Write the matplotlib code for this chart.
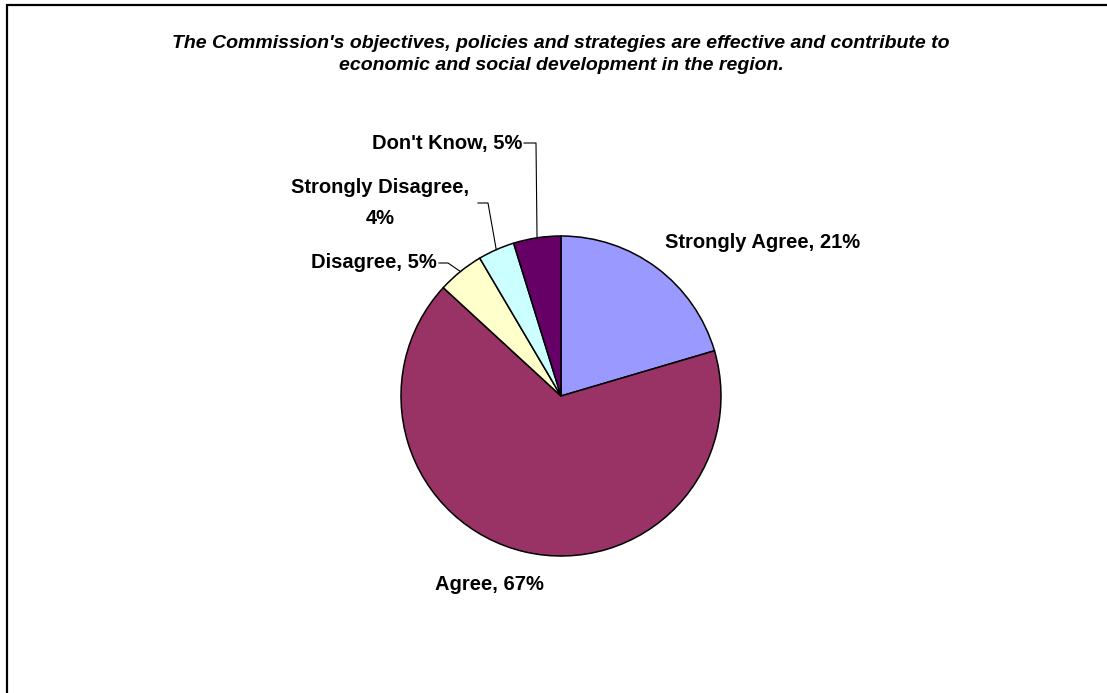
import matplotlib
matplotlib.use("Agg")
import matplotlib.pyplot as plt
import numpy as np
from matplotlib.patches import Rectangle

categories = ["Strongly Agree", "Agree", "Disagree", "Strongly Disagree", "Don't Know"]
values = [20.5, 66.6, 4.7, 3.7, 4.8]
pct_labels = ["21%", "67%", "5%", "4%", "5%"]
colors = ["#9999FF", "#993366", "#FFFFCC", "#CCFFFF", "#660066"]
title = ("The Commission's objectives, policies and strategies are effective and contribute to\n"
         "economic and social development in the region.")

W, H = 1107, 693
fig = plt.figure(figsize=(W / 100, H / 100), dpi=100)
plt.rcParams['font.family'] = ['Liberation Sans', 'DejaVu Sans']

# outer border (top and left visible)
fig.patches.append(Rectangle((6.5 / W, -0.05), 1.2, (H - 5.5) / H + 0.05,
                             transform=fig.transFigure, fill=False,
                             edgecolor="black", linewidth=1.6))

cx, cy, R = 561, 396, 160
ax = fig.add_axes([(cx - R) / W, (H - cy - R) / H, 2 * R / W, 2 * R / H])
ax.axis("off")

wedges, _ = ax.pie(values, colors=colors, startangle=90, counterclock=False,
                   radius=1.0, center=(0, 0),
                   wedgeprops=dict(edgecolor="black", linewidth=1.1))
ax.set_xlim(-1, 1)
ax.set_ylim(-1, 1)
ax.set_aspect("auto")

def px(x, y):
    return ((x - cx) / R, (cy - y) / R)

fs = 14.5
txt_kw = dict(fontsize=fs, fontweight="bold", clip_on=False)

# Strongly Agree
ax.text(*px(665, 242), f"{categories[0]}, {pct_labels[0]}", ha="left", va="center", **txt_kw)
# Agree
ax.text(*px(489, 585), f"{categories[1]}, {pct_labels[1]}", ha="center", va="center", **txt_kw)
# Disagree
ax.text(*px(437, 263), f"{categories[2]}, {pct_labels[2]}", ha="right", va="center", **txt_kw)
# Strongly Disagree (two lines)
ax.text(*px(380, 203), f"{categories[3]},\n{pct_labels[3]}", ha="center", va="center",
        linespacing=1.82, **txt_kw)
# Don't Know
ax.text(*px(522, 143), f"{categories[4]}, {pct_labels[4]}", ha="right", va="center", **txt_kw)

# leader lines: label end -> elbow -> wedge edge at mid angle
def mid_point(i):
    w = wedges[i]
    th = np.deg2rad((w.theta1 + w.theta2) / 2)
    return np.cos(th), np.sin(th)

leaders = {2: [(439, 263), (448, 263)], 3: [(478, 203), (488, 203)], 4: [(524, 143), (536, 143)]}
for i, pts in leaders.items():
    xs = [px(*p)[0] for p in pts]
    ys = [px(*p)[1] for p in pts]
    mx, my = mid_point(i)
    xs.append(mx)
    ys.append(my)
    ax.plot(xs, ys, color="black", linewidth=0.8, clip_on=False)

fig.text(561 / W, 1 - 54.5 / H, title, ha="center", va="center", fontsize=14,
         fontweight="bold", fontstyle="italic", linespacing=1.45)

fig.savefig("out.png", dpi=100, facecolor="white")
